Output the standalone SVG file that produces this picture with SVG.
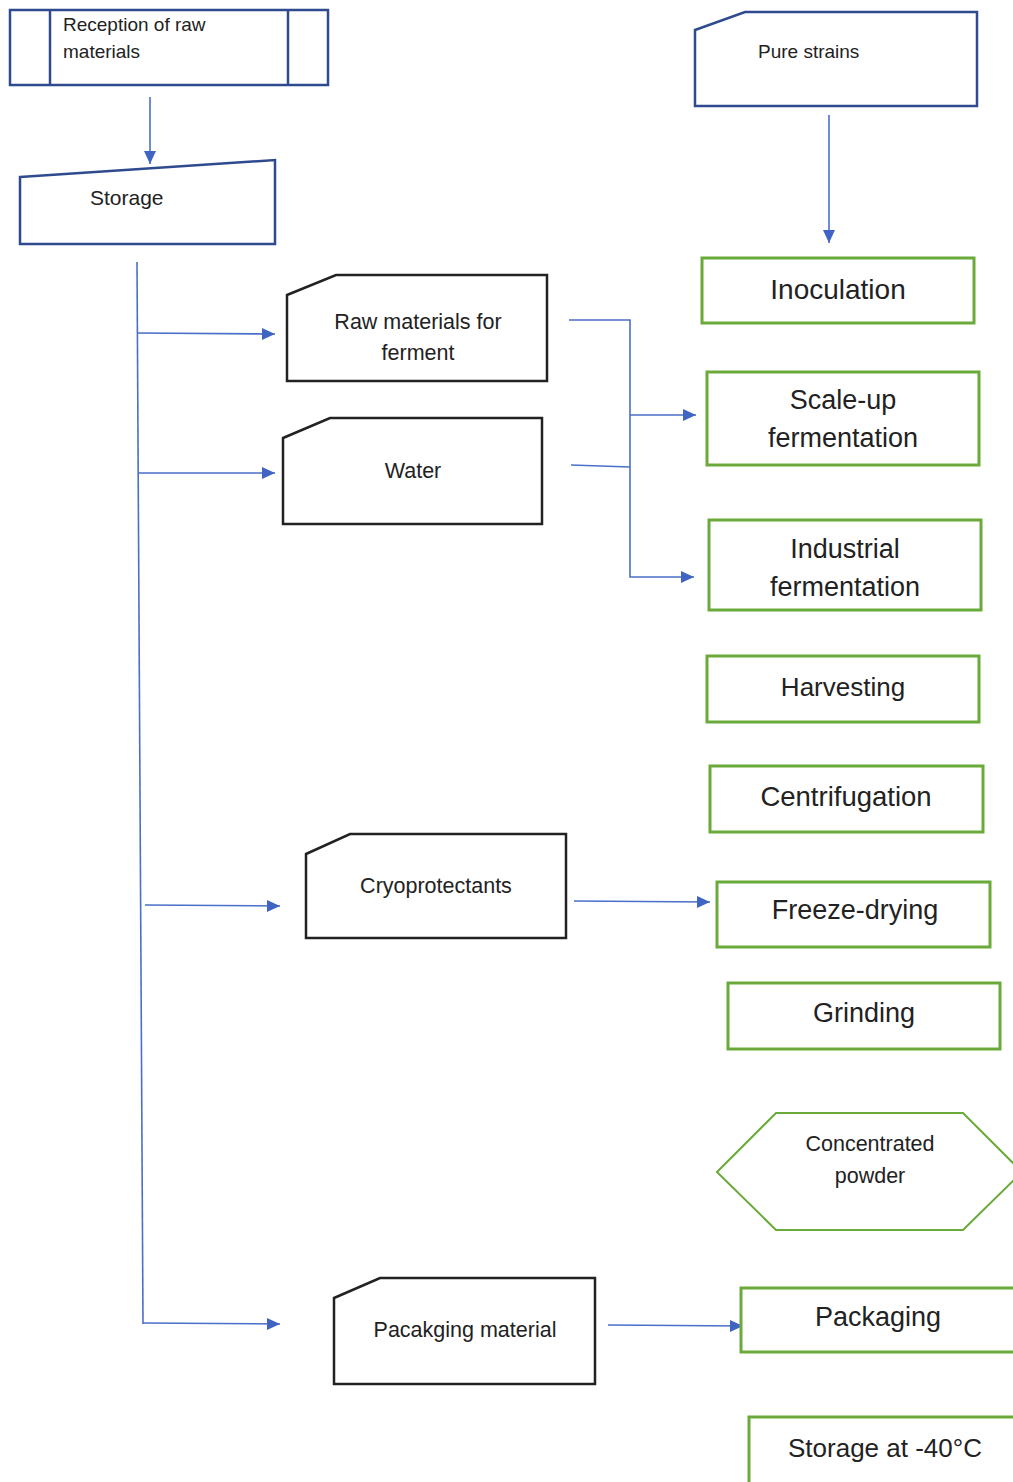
<svg xmlns="http://www.w3.org/2000/svg" width="1013" height="1482" viewBox="0 0 1013 1482">
<style>
text{font-family:"Liberation Sans",Arial,sans-serif;fill:#222;}
.sm{font-size:21.5px;}
.xs{font-size:19px;}
.big{font-size:27px;}
.mid{text-anchor:middle;}
.navy{fill:#fff;stroke:#2f4a8f;stroke-width:2.5;}
.card{fill:#fff;stroke:#222;stroke-width:2.5;}
.step{fill:#fff;stroke:#6aaa3a;stroke-width:3;}
.conn{fill:none;stroke:#4a6fc8;stroke-width:1.6;}
</style>
<defs>
<marker id="arr" markerUnits="userSpaceOnUse" markerWidth="14" markerHeight="14" refX="13" refY="7" orient="auto">
<path d="M0,1 L13,7 L0,13 z" fill="#3f64c4"/>
</marker>
</defs>
<g id="connectors">
<line class="conn" x1="150" y1="97" x2="150" y2="164" marker-end="url(#arr)"/>
<line class="conn" x1="829" y1="115" x2="829" y2="243" marker-end="url(#arr)"/>
<line class="conn" x1="137" y1="262" x2="143" y2="1324"/>
<line class="conn" x1="137" y1="333" x2="275" y2="334" marker-end="url(#arr)"/>
<line class="conn" x1="138" y1="473" x2="275" y2="473" marker-end="url(#arr)"/>
<line class="conn" x1="145" y1="905" x2="280" y2="906" marker-end="url(#arr)"/>
<line class="conn" x1="143" y1="1323" x2="280" y2="1324" marker-end="url(#arr)"/>
<path class="conn" d="M569,320 H630 V577 H694" marker-end="url(#arr)"/>
<line class="conn" x1="630" y1="415" x2="696" y2="415" marker-end="url(#arr)"/>
<line class="conn" x1="571" y1="465" x2="630" y2="467"/>
<line class="conn" x1="574" y1="901" x2="710" y2="902" marker-end="url(#arr)"/>
<line class="conn" x1="608" y1="1325" x2="743" y2="1326" marker-end="url(#arr)"/>
</g>
<g id="reception">
<rect class="navy" x="10" y="10" width="318" height="75"/>
<line class="navy" x1="50" y1="10" x2="50" y2="85"/>
<line class="navy" x1="288" y1="10" x2="288" y2="85"/>
<text class="xs" x="63" y="31">Reception of raw</text>
<text class="xs" x="63" y="58">materials</text>
</g>
<g id="storage">
<polygon class="navy" points="20,177 275,160 275,244 20,244"/>
<text class="sm" x="90" y="205" style="font-size:21px">Storage</text>
</g>
<g id="pure-strains">
<polygon class="navy" points="695,30 745,12 977,12 977,106 695,106"/>
<text class="xs" x="758" y="58">Pure strains</text>
</g>
<g id="raw-materials">
<polygon class="card" points="287,295 336,275 547,275 547,381 287,381"/>
<text class="sm mid" x="418" y="329">Raw materials for</text>
<text class="sm mid" x="418" y="360">ferment</text>
</g>
<g id="water">
<polygon class="card" points="283,438 330,418 542,418 542,524 283,524"/>
<text class="sm mid" x="413" y="478">Water</text>
</g>
<g id="cryoprotectants">
<polygon class="card" points="306,854 350,834 566,834 566,938 306,938"/>
<text class="sm mid" x="436" y="893">Cryoprotectants</text>
</g>
<g id="packaging-material">
<polygon class="card" points="334,1298 380,1278 595,1278 595,1384 334,1384"/>
<text class="sm mid" x="465" y="1337">Pacakging material</text>
</g>
<g id="inoculation">
<rect class="step" x="702" y="258" width="272" height="65"/>
<text class="big mid" x="838" y="299" style="font-size:28px">Inoculation</text>
</g>
<g id="scale-up">
<rect class="step" x="707" y="372" width="272" height="93"/>
<text class="big mid" x="843" y="409">Scale-up</text>
<text class="big mid" x="843" y="447">fermentation</text>
</g>
<g id="industrial">
<rect class="step" x="709" y="520" width="272" height="90"/>
<text class="big mid" x="845" y="558">Industrial</text>
<text class="big mid" x="845" y="596">fermentation</text>
</g>
<g id="harvesting">
<rect class="step" x="707" y="656" width="272" height="66"/>
<text class="big mid" x="843" y="696" style="font-size:26px">Harvesting</text>
</g>
<g id="centrifugation">
<rect class="step" x="710" y="766" width="273" height="66"/>
<text class="big mid" x="846" y="806" style="font-size:27.5px">Centrifugation</text>
</g>
<g id="freeze-drying">
<rect class="step" x="717" y="882" width="273" height="65"/>
<text class="big mid" x="855" y="919">Freeze-drying</text>
</g>
<g id="grinding">
<rect class="step" x="728" y="983" width="272" height="66"/>
<text class="big mid" x="864" y="1022">Grinding</text>
</g>
<g id="concentrated-powder">
<polygon class="step" style="stroke-width:2" points="717,1172 776,1113 963,1113 1022,1172 963,1230 776,1230"/>
<text class="sm mid" x="870" y="1151">Concentrated</text>
<text class="sm mid" x="870" y="1183">powder</text>
</g>
<g id="packaging">
<rect class="step" x="741" y="1288" width="280" height="64"/>
<text class="big mid" x="878" y="1326">Packaging</text>
</g>
<g id="storage-40">
<rect class="step" x="749" y="1417" width="280" height="80"/>
<text class="big mid" x="885" y="1457" style="font-size:26px">Storage at -40°C</text>
</g>
</svg>
